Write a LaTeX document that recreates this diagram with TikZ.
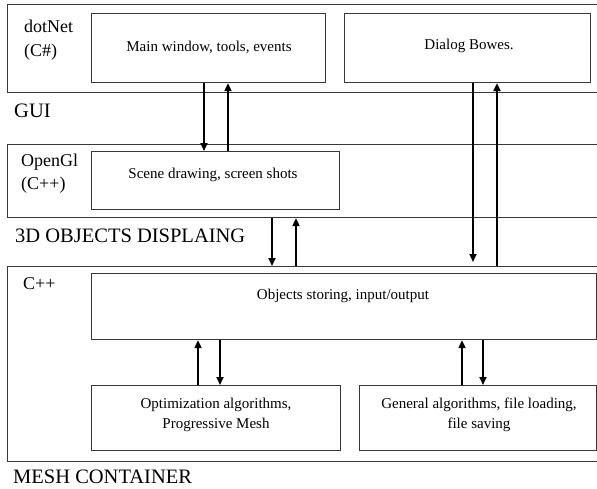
\documentclass[tikz,border=0pt]{standalone}
\usepackage{fontspec}
\setmainfont{Liberation Serif}
\usetikzlibrary{arrows.meta,calc}
\begin{document}
\begin{tikzpicture}[x=1pt,y=-1pt,
  frame/.style={draw=black!78, line width=1.1pt, inner sep=0pt, anchor=north west},
  layerbox/.style={frame},
  unitbox/.style={frame, fill=white},
  boxtext/.style={font=\fontsize{15}{20}\selectfont, align=center, inner sep=0pt},
  tagtext/.style={font=\fontsize{18}{22}\selectfont, anchor=west, inner sep=0pt},
  captext/.style={font=\fontsize{20.5}{24}\selectfont, anchor=west, inner sep=0pt},
  arr/.style={-{Triangle[length=8pt,width=7pt]}, line width=1.7pt, black},
  thickarr/.style={arr, line width=2.4pt},
]
\clip (0,0) rectangle (597,488);
\fill[white] (0,0) rectangle (597,488);

% layer frames (run off the right edge)
\node[layerbox, minimum width=613pt, minimum height=88pt]  (gui)    at (7,4)   {};
\node[layerbox, minimum width=613pt, minimum height=73pt]  (opengl) at (7,144) {};
\node[layerbox, minimum width=613pt, minimum height=195pt] (cpp)    at (7,266) {};

% component boxes
\node[unitbox, minimum width=234pt, minimum height=69pt] (main)    at (91,13)  {};
\node[unitbox, minimum width=246pt, minimum height=69pt] (dialog)  at (344,13) {};
\node[unitbox, minimum width=248pt, minimum height=58pt] (scene)   at (91,151) {};
\node[unitbox, minimum width=505pt, minimum height=66pt] (objects) at (91,273) {};
\node[unitbox, minimum width=249pt, minimum height=65pt] (optim)   at (91,385) {};
\node[unitbox, minimum width=237pt, minimum height=65pt] (general) at (359,385) {};

% component texts
\node[boxtext] (maintext)    at (209,47)  {Main window, tools, events};
\node[boxtext] (dialogtext)  at (469,46)  {Dialog Bowes.};
\node[boxtext] (scenetext)   at (213,175) {Scene drawing, screen shots};
\node[boxtext] (objectstext) at (343,296) {Objects storing, input/output};
\node[boxtext] (optimtext)   at (216,415) {Optimization algorithms,\\Progressive Mesh};
\node[boxtext] (generaltext) at (479,415) {General algorithms, file loading,\\file saving};

% layer tags and captions
\node[tagtext] (tagdotnet) at (24,26)  {dotNet};
\node[tagtext] (tagcs)     at (24,52)  {(C\#)};
\node[tagtext] (tagogl)    at (21,162) {OpenGl};
\node[tagtext] (tagcpp)    at (21,185) {(C++)};
\node[tagtext] (tagcpp2)   at (23,284) {C++};
\node[captext] (capgui)    at (14,111) {GUI};
\node[captext] (cap3d)     at (15,236) {3D OBJECTS DISPLAING};
\node[captext] (capmesh)   at (13,477) {MESH CONTAINER};

% arrow columns
\coordinate (xa) at (204,0);
\coordinate (xb) at (228,0);
\coordinate (xc) at (272,0);
\coordinate (xd) at (296,0);
\coordinate (xe) at (473,0);
\coordinate (xf) at (497,0);
\coordinate (xg) at (198,0);
\coordinate (xh) at (220,0);
\coordinate (xi) at (462,0);
\coordinate (xj) at (483,0);

% GUI <-> OpenGL
\draw[arr] (main.south -| xa) -- (scene.north -| xa);
\draw[arr] (scene.north -| xb) -- (main.south -| xb);
% OpenGL <-> mesh container
\draw[arr] (opengl.south -| xc) -- (cpp.north -| xc);
\draw[arr] (cpp.north -| xd) -- (opengl.south -| xd);
% dialogs <-> mesh container
\draw[arr] (dialog.south -| xe) -- ([yshift=4pt]cpp.north -| xe);
\draw[thickarr] (cpp.north -| xf) -- (dialog.south -| xf);
% inside the mesh container
\draw[arr] (optim.north -| xg) -- (objects.south -| xg);
\draw[arr] (objects.south -| xh) -- (optim.north -| xh);
\draw[arr] (general.north -| xi) -- (objects.south -| xi);
\draw[arr] (objects.south -| xj) -- (general.north -| xj);
\end{tikzpicture}
\end{document}
